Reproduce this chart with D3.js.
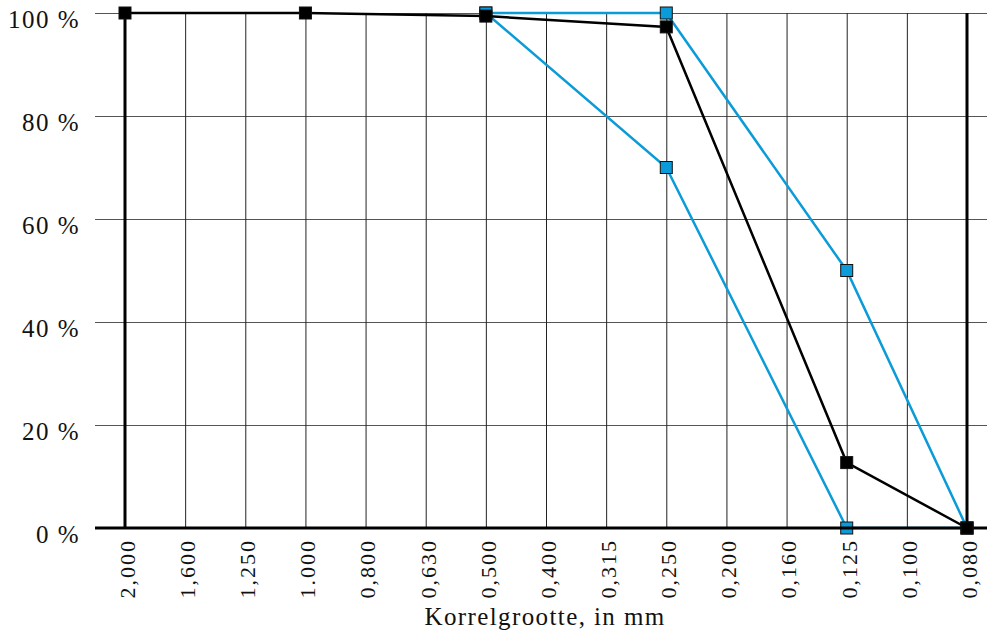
<!DOCTYPE html>
<html>
<head>
<meta charset="utf-8">
<script src="https://cdn.jsdelivr.net/npm/d3@7"></script>
<style>
  html, body { margin: 0; padding: 0; background: #fff; }
  svg { display: block; }
</style>
</head>
<body>
<svg id="chart" width="987" height="637"></svg>
<script>
// Sieve sizes (mm), coarse to fine
const sieves = ["2,000", "1,600", "1,250", "1.000", "0,800", "0,630", "0,500", "0,400",
                "0,315", "0,250", "0,200", "0,160", "0,125", "0,100", "0,080"];

// Passing percentages per sieve
const measured = [
  { sieve: "2,000", value: 100 },
  { sieve: "1.000", value: 100 },
  { sieve: "0,500", value: 99.4 },
  { sieve: "0,250", value: 97.3 },
  { sieve: "0,125", value: 12.7 },
  { sieve: "0,080", value: 0 }
];
const upperLimit = [
  { sieve: "0,500", value: 100 },
  { sieve: "0,250", value: 100 },
  { sieve: "0,125", value: 50 },
  { sieve: "0,080", value: 0 }
];
const lowerLimit = [
  { sieve: "0,500", value: 100 },
  { sieve: "0,250", value: 70 },
  { sieve: "0,125", value: 0 },
  { sieve: "0,080", value: 0 }
];
const yTicks = [0, 20, 40, 60, 80, 100];

const FONT = "'Liberation Serif', 'Times New Roman', serif";
const svg = d3.select("#chart");
const plotLeft = 125, plotRight = 967, plotTop = 13, plotBottom = 528;

const x = d3.scalePoint().domain(sieves).range([plotLeft, plotRight]);
const y = d3.scaleLinear().domain([0, 100]).range([plotBottom, plotTop]);

// Horizontal grid with tick stubs
svg.append("g")
  .attr("transform", `translate(${plotLeft},0)`)
  .call(d3.axisLeft(y).tickValues(yTicks).tickSize(-(987 - plotLeft)).tickFormat(""))
  .call(g => g.select(".domain").remove())
  .call(g => g.selectAll(".tick line").attr("x1", -30).attr("stroke", "#555").attr("stroke-width", 1));

// Vertical grid
svg.append("g")
  .attr("transform", `translate(0,${plotBottom})`)
  .call(d3.axisBottom(x).tickSize(-(plotBottom - plotTop)).tickFormat(""))
  .call(g => g.select(".domain").remove())
  .call(g => g.selectAll(".tick line").attr("stroke", "#222").attr("stroke-width", 1));

// Y labels, hanging just below their grid line
svg.append("g").selectAll("text").data(yTicks).join("text")
  .attr("x", 80).attr("y", d => y(d) + 15)
  .attr("text-anchor", "end").attr("font-size", 25)
  .attr("letter-spacing", 1.5)
  .style("font-family", FONT).attr("fill", "#111")
  .text(d => d + " %");

// X labels (rotated)
svg.append("g").selectAll("text").data(sieves).join("text")
  .attr("transform", d => `translate(${x(d)},539) rotate(-90)`)
  .attr("text-anchor", "end").attr("dy", "0.45em").attr("font-size", 22)
  .attr("letter-spacing", 2)
  .style("font-family", FONT).attr("fill", "#111")
  .text(d => d);

svg.append("text")
  .attr("x", 545).attr("y", 625).attr("text-anchor", "middle").attr("font-size", 25)
  .attr("letter-spacing", 1.4)
  .style("font-family", FONT).attr("fill", "#111")
  .text("Korrelgrootte, in mm");

const line = d3.line().x(d => x(d.sieve)).y(d => y(d.value));

function series(data, color, fill) {
  const g = svg.append("g");
  g.append("path").datum(data).attr("d", line)
    .attr("fill", "none").attr("stroke", color).attr("stroke-width", 2.5);
  g.selectAll("rect").data(data).join("rect")
    .attr("x", d => x(d.sieve) - 6).attr("y", d => y(d.value) - 6)
    .attr("width", 12).attr("height", 12)
    .attr("fill", fill).attr("stroke", "#111").attr("stroke-width", 1);
}

series(upperLimit, "#0a9bd8", "#0a9bd8");
series(lowerLimit, "#0a9bd8", "#0a9bd8");

// Frame: thick outer verticals and baseline
svg.append("line").attr("x1", plotLeft).attr("x2", plotLeft).attr("y1", plotTop).attr("y2", plotBottom)
  .attr("stroke", "#000").attr("stroke-width", 3);
svg.append("line").attr("x1", plotRight).attr("x2", plotRight).attr("y1", plotTop).attr("y2", plotBottom)
  .attr("stroke", "#000").attr("stroke-width", 3);
svg.append("line").attr("x1", 95).attr("x2", 987).attr("y1", plotBottom).attr("y2", plotBottom)
  .attr("stroke", "#000").attr("stroke-width", 3);

series(measured, "#000", "#000");
</script>
</body>
</html>
